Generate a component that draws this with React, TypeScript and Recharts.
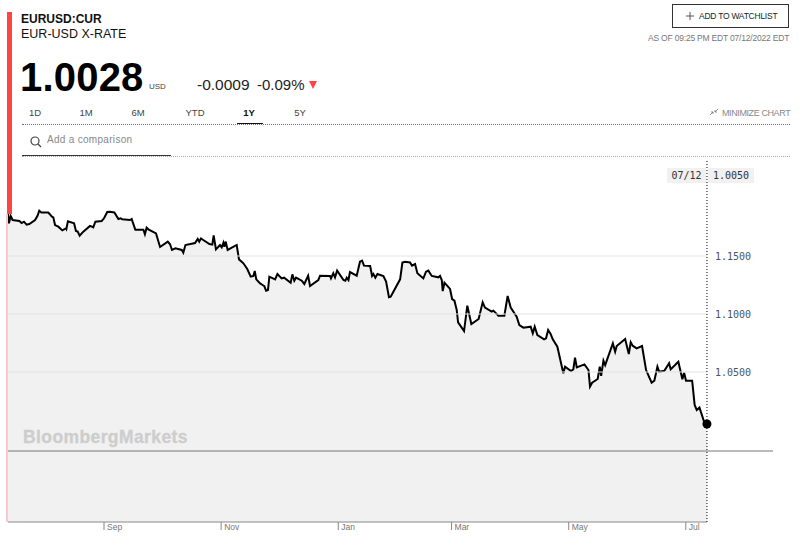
import {
  Area,
  ComposedChart,
  ReferenceDot,
  ReferenceLine,
  XAxis,
  YAxis,
} from "recharts";

// days since 07/13/2021
const days = [
  0, 0.5, 1.4, 2.4, 5.9, 7.1, 8.3, 9.7, 11.1, 14.1, 15.3, 16.3, 17.4, 21, 22.9, 23.6, 24.5, 26.2, 28.3, 30.2, 30.4,
  31.2, 34.4, 35.4, 36.3, 37.3, 39.2, 42.7, 43.7, 44.4, 45.5, 48.8, 50, 51.7, 53.1, 55.4, 57.5, 58.7, 59.5, 63.5,
  64.4, 66.3, 70.5, 71.3, 72.2, 73.1, 77.1, 78.1, 79.2, 83.2, 84.4, 85.4, 87.2, 90.5, 91.3, 92.4, 97.4, 98.8, 99.6,
  100.5, 101.7, 104.9, 106.4, 107.1, 108.3, 110.4, 111.3, 112.2, 112.7, 113.4, 114.4, 119.1, 120.3, 122.6, 124.6,
  126.4, 127.8, 128.5, 129.3, 131.3, 132.6, 133.5, 134.4, 135.4, 136.1, 139.1, 140.3, 142.5, 143.8, 147.2, 148.1,
  149.1, 150, 153, 154.3, 156.3, 157.3, 161.6, 162.5, 167.7, 168.2, 169.4, 170.3, 171.4, 174.7, 175.7, 176.4, 177.3,
  178.1, 181.6, 183.3, 184.4, 185.4, 188.6, 189.6, 190.3, 191.3, 192.4, 195.5, 196.9, 198.4, 199.3, 204.2, 205.4,
  206.8, 209.4, 210.4, 212, 213.2, 216.3, 217.7, 218.9, 220.7, 224.1, 225, 225.9, 226.4, 227.3, 230.2, 231.3, 232.5,
  233.7, 234.4, 237.5, 239.2, 241.3, 245.1, 247.2, 248.4, 251.9, 252.8, 255.4, 258.5, 260.2, 261.8, 264.9, 266.3,
  268.4, 272.2, 273.3, 274.3, 275.7, 279.2, 280.2, 281.3, 282.6, 283.7, 286.1, 289.2, 290.1, 293.2, 294.4, 295.3,
  296.2, 300.2, 302.3, 303.1, 304.2, 307.1, 308.2, 308.9, 310.1, 311, 315, 316.2, 317, 321.4, 323.3, 324.3, 325.3,
  327.4, 330.2, 332.3, 335.2, 336.6, 338.2, 339.1, 341.8, 344.3, 345.1, 349.1, 351.2, 352.1, 353.1, 356.3, 357.6,
  358.7, 360.1, 362.7, 364,
];

const rates = [
  1.1868, 1.1782, 1.1845, 1.181, 1.1802, 1.1784, 1.1796, 1.177, 1.1776, 1.181, 1.1845, 1.1891, 1.1874, 1.1874, 1.1839,
  1.1833, 1.1767, 1.1753, 1.1721, 1.1739, 1.1733, 1.1799, 1.1782, 1.1716, 1.171, 1.1675, 1.171, 1.1759, 1.1753,
  1.1747, 1.1796, 1.1802, 1.1825, 1.1879, 1.1882, 1.1876, 1.1819, 1.1825, 1.1816, 1.181, 1.1819, 1.1727, 1.1727,
  1.1687, 1.1744, 1.173, 1.1695, 1.1638, 1.1578, 1.1624, 1.1601, 1.1552, 1.1566, 1.1552, 1.1529, 1.1595, 1.1612,
  1.1647, 1.1624, 1.1652, 1.1638, 1.1603, 1.1598, 1.1678, 1.1557, 1.1595, 1.1575, 1.1615, 1.158, 1.1624, 1.1552,
  1.1595, 1.1471, 1.1437, 1.1388, 1.1322, 1.1328, 1.1371, 1.1299, 1.1264, 1.125, 1.1241, 1.1201, 1.1207, 1.1322,
  1.1299, 1.1345, 1.1307, 1.1313, 1.127, 1.1342, 1.1287, 1.1313, 1.1287, 1.1259, 1.133, 1.1241, 1.1293, 1.133, 1.1328,
  1.1307, 1.1351, 1.1316, 1.1374, 1.1293, 1.1287, 1.1313, 1.1293, 1.1362, 1.133, 1.1451, 1.146, 1.1417, 1.1414,
  1.1328, 1.1345, 1.1313, 1.1345, 1.1328, 1.1279, 1.1144, 1.1149, 1.1299, 1.1443, 1.1451, 1.1445, 1.1417, 1.1431,
  1.1351, 1.1307, 1.1365, 1.1374, 1.1328, 1.1316, 1.1328, 1.1293, 1.1198, 1.127, 1.1216, 1.1129, 1.1115, 1.1034,
  1.0928, 1.0853, 1.1072, 1.0914, 1.0957, 1.1101, 1.1055, 1.102, 1.1029, 1.0986, 1.0986, 1.1155, 1.1055, 1.0977,
  1.0905, 1.0882, 1.0891, 1.0833, 1.0891, 1.0819, 1.0782, 1.079, 1.0862, 1.0828, 1.0782, 1.0718, 1.0489, 1.0546,
  1.0509, 1.0523, 1.0624, 1.054, 1.0566, 1.0517, 1.0374, 1.0408, 1.044, 1.0546, 1.0466, 1.0598, 1.056, 1.0747, 1.0675,
  1.0724, 1.0784, 1.0655, 1.0756, 1.0727, 1.0704, 1.0724, 1.0517, 1.0408, 1.0425, 1.0546, 1.0503, 1.0511, 1.0575,
  1.0523, 1.0589, 1.0437, 1.0494, 1.0425, 1.0425, 1.0216, 1.0172, 1.0193, 1.0063, 1.0052,
];

const monthTicks = [50, 111, 172, 231, 292, 353];
const monthLabels = ["Sep", "Nov", "Jan", "Mar", "May", "Jul"];
const rateTicks = [1.05, 1.1, 1.15];
const tabs = ["1D", "1M", "6M", "YTD", "1Y", "5Y"];
const tabCenters = [35, 86, 138, 195, 249, 300];
const baseline = 0.9819;
const lastDay = 364;
const lastRate = 1.0052;
const yMin = 0.9207;
const yMax = 1.2319;
const xMax = 398.4;

const chartData = days.map((day, i) => ({ day, rate: rates[i] }));

const SANS = '"Liberation Sans", Arial, sans-serif';
const MONO = '"DejaVu Sans Mono", monospace';

function abs(left: number, top: number, extra: React.CSSProperties = {}): React.CSSProperties {
  return { position: "absolute", left, top, whiteSpace: "nowrap", ...extra };
}

function MonthTick({ x, y, payload, index }: any) {
  return (
    <g>
      <line x1={x} x2={x} y1={y} y2={y + 8} stroke="#888" strokeWidth={1} />
      <text x={x + 3} y={y + 8} fontSize={8.5} fontFamily={SANS} fill="#777">
        {monthLabels[index] ?? payload.value}
      </text>
    </g>
  );
}

export default function App() {
  return (
    <div style={{ position: "absolute", left: 0, top: 0, width: 810, height: 554, background: "#fff", fontFamily: SANS, overflow: "hidden" }}>
      <div style={{ position: "absolute", left: 0, top: 0 }}>
        <ComposedChart
          width={810}
          height={554}
          data={chartData}
          margin={{ top: 161, right: 37, left: 8, bottom: 0 }}
        >
          <XAxis
            type="number"
            dataKey="day"
            domain={[0, xMax]}
            ticks={monthTicks}
            interval={0}
            axisLine={false}
            tickLine={false}
            tickSize={0}
            tickMargin={0}
            tick={MonthTick}
            height={32}
          />
          <YAxis
            type="number"
            orientation="right"
            mirror
            domain={[yMin, yMax]}
            ticks={rateTicks}
            interval={0}
            axisLine={false}
            tickLine={false}
            tickSize={0}
            tickMargin={22}
            tickFormatter={(v: number) => v.toFixed(4)}
            tick={{ fontSize: 10, fontFamily: MONO, fill: "#4a5560" }}
          />
          <Area
            type="linear"
            dataKey="rate"
            stroke="#000"
            strokeWidth={2}
            fill="#f1f1f1"
            fillOpacity={1}
            dot={false}
            activeDot={false}
            isAnimationActive={false}
          />
          {rateTicks.map((v) => (
            <ReferenceLine
              key={v}
              segment={[
                { x: 0, y: v },
                { x: lastDay, y: v },
              ]}
              stroke="#e3e3e3"
              strokeWidth={1}
            />
          ))}
          <ReferenceLine y={baseline} stroke="#777" strokeWidth={1} />
          <ReferenceLine
            segment={[
              { x: 0, y: yMin },
              { x: lastDay, y: yMin },
            ]}
            stroke="#888"
            strokeWidth={1}
          />
          <ReferenceLine x={lastDay} stroke="#000" strokeWidth={1} strokeDasharray="1 2" />
          <ReferenceDot x={lastDay} y={lastRate} r={4.5} fill="#000" stroke="none" />
        </ComposedChart>
      </div>

      {/* red side bar */}
      <div style={{ position: "absolute", left: 7, top: 12, width: 5, height: 202, background: "#f44" }} />
      <div style={{ position: "absolute", left: 6, top: 214, width: 2, height: 308, background: "#fbc9c9" }} />

      {/* header */}
      <div style={abs(21, 12, { fontSize: 12, fontWeight: 700, color: "#111", lineHeight: "15px" })}>EURUSD:CUR</div>
      <div style={abs(21, 27, { fontSize: 12.5, color: "#111", lineHeight: "15px" })}>EUR-USD X-RATE</div>
      <div style={abs(20, 55, { fontSize: 40, fontWeight: 700, color: "#000", lineHeight: "44px", letterSpacing: 0.2 })}>1.0028</div>
      <div style={abs(149, 82, { fontSize: 8, color: "#444", lineHeight: "10px" })}>USD</div>
      <div style={abs(197, 76, { fontSize: 15.5, color: "#222", lineHeight: "18px" })}>-0.0009</div>
      <div style={abs(257, 76, { fontSize: 15, color: "#222", lineHeight: "18px" })}>-0.09%</div>
      <div style={{ position: "absolute", left: 309, top: 81, width: 0, height: 0, borderLeft: "4px solid transparent", borderRight: "4px solid transparent", borderTop: "8px solid #f44" }} />

      {tabs.map((t, i) => (
        <div
          key={t}
          style={abs(tabCenters[i] - 20, 107, {
            width: 40,
            textAlign: "center",
            fontSize: 9.5,
            lineHeight: "12px",
            color: t === "1Y" ? "#111" : "#444",
            fontWeight: t === "1Y" ? 700 : 400,
          })}
        >
          {t}
        </div>
      ))}
      <div style={{ position: "absolute", left: 22, top: 124, width: 768, borderTop: "1px dotted #777" }} />
      <div style={{ position: "absolute", left: 237, top: 123, width: 26, height: 1, background: "#111" }} />

      <svg style={{ position: "absolute", left: 29, top: 135 }} width={14} height={14}>
        <circle cx={6} cy={6} r={4} fill="none" stroke="#444" strokeWidth={1.2} />
        <line x1={9} y1={9} x2={12} y2={12} stroke="#444" strokeWidth={1.2} />
      </svg>
      <div style={abs(47, 133, { fontSize: 10, letterSpacing: 0.3, color: "#888", lineHeight: "14px" })}>Add a comparison</div>
      <div style={{ position: "absolute", left: 22, top: 156, width: 768, borderTop: "1px dotted #aaa" }} />
      <div style={{ position: "absolute", left: 22, top: 155, width: 149, height: 1, background: "#333" }} />

      {/* watchlist + time stamp */}
      <div style={{ position: "absolute", left: 672, top: 4, width: 115, height: 22, border: "1px solid #333", boxSizing: "content-box" }} />
      <svg style={{ position: "absolute", left: 685, top: 11 }} width={10} height={10}>
        <path d="M5 1V9M1 5H9" stroke="#555" strokeWidth={1} />
      </svg>
      <div style={abs(699, 10, { fontSize: 8.5, letterSpacing: -0.25, color: "#222", lineHeight: "12px" })}>ADD TO WATCHLIST</div>
      <div style={abs(648, 32, { fontSize: 8.5, letterSpacing: -0.2, color: "#777", lineHeight: "12px" })}>AS OF 09:25 PM EDT 07/12/2022 EDT</div>
      <div style={abs(709, 107, { fontSize: 9, letterSpacing: -0.4, color: "#888", lineHeight: "12px" })}>
        <svg width={10} height={8} style={{ marginRight: 3 }}>
          <path d="M1 7L4 4M2 4H4V6M9 1L6 4M6 2V4H8" stroke="#777" strokeWidth={0.8} fill="none" />
        </svg>
        MINIMIZE CHART
      </div>

      {/* current value tag */}
      <div style={abs(667, 168, { width: 39, height: 15, background: "#f1f1f1", fontSize: 10, fontFamily: MONO, color: "#333", lineHeight: "15px", textAlign: "center" })}>07/12</div>
      <div style={abs(708, 168, { width: 46, height: 15, background: "#f1f1f1", fontSize: 10, fontFamily: MONO, color: "#333", lineHeight: "15px", textAlign: "center" })}>1.0050</div>

      <div style={abs(23, 428, { fontSize: 17.5, fontWeight: 700, letterSpacing: 0.4, WebkitTextStroke: "0.3px #cdcdcd", color: "#cdcdcd", lineHeight: "18px" })}>BloombergMarkets</div>
    </div>
  );
}
